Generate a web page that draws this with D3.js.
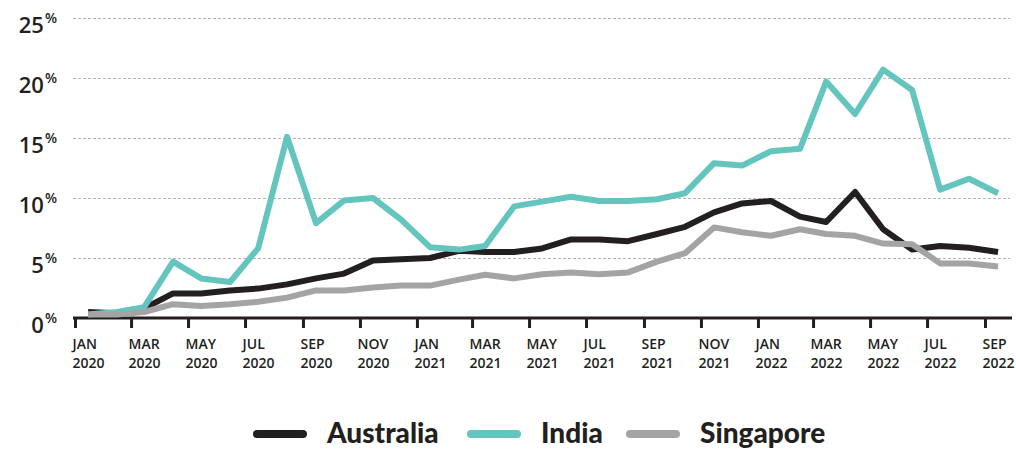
<!DOCTYPE html>
<html>
<head>
<meta charset="utf-8">
<script src="https://cdn.jsdelivr.net/npm/d3@7"></script>
<style>
  body { margin: 0; background: #fff; }
  svg { display: block; }
  .grid line { stroke: #b3b3b3; stroke-width: 1; stroke-dasharray: 3 2; }
  .ylab { font-family: "Open Sans", sans-serif; font-weight: 600; fill: #231f20; }
  .x-axis text { font-family: "Open Sans", sans-serif; font-weight: 600; font-size: 14px; fill: #231f20; }
  .legend text { font-family: Lato, "Open Sans", sans-serif; font-weight: 900; font-size: 28px; fill: #231f20; }
</style>
</head>
<body>
<svg id="chart" width="1016" height="450"></svg>
<script>
// months of data, Jan 2020 .. Sep 2022
var months = ['2020-01','2020-02','2020-03','2020-04','2020-05','2020-06','2020-07','2020-08','2020-09','2020-10','2020-11','2020-12',
              '2021-01','2021-02','2021-03','2021-04','2021-05','2021-06','2021-07','2021-08','2021-09','2021-10','2021-11','2021-12',
              '2022-01','2022-02','2022-03','2022-04','2022-05','2022-06','2022-07','2022-08','2022-09'];

// series values, percent
var australia = [0.5, 0.4, 0.8, 2.05, 2.05, 2.3, 2.45, 2.8, 3.3, 3.7, 4.8, 4.9,
                 5.0, 5.6, 5.5, 5.5, 5.8, 6.55, 6.55, 6.4, 7.0, 7.6, 8.8, 9.55,
                 9.75, 8.45, 8.0, 10.5, 7.4, 5.7, 6.0, 5.85, 5.5];
var india = [0.3, 0.5, 0.9, 4.7, 3.3, 3.0, 5.8, 15.1, 7.9, 9.8, 10.0, 8.2,
             5.9, 5.7, 6.0, 9.3, 9.7, 10.1, 9.75, 9.75, 9.9, 10.4, 12.9, 12.7,
             13.9, 14.1, 19.7, 17.0, 20.7, 19.0, 10.7, 11.6, 10.4];
var singapore = [0.3, 0.3, 0.5, 1.15, 1.0, 1.15, 1.35, 1.7, 2.3, 2.3, 2.55, 2.7,
                 2.7, 3.2, 3.6, 3.3, 3.65, 3.8, 3.65, 3.8, 4.7, 5.4, 7.55, 7.15,
                 6.85, 7.4, 7.0, 6.85, 6.2, 6.15, 4.55, 4.55, 4.3];

// legend / series setup
var seriesNames = ['Australia', 'India', 'Singapore'];
var seriesColors = ['#231f20', '#63c5be', '#a4a4a4'];
var yTicks = [0, 5, 10, 15, 20, 25];

var parseMonth = d3.timeParse('%Y-%m');
var svg = d3.select('#chart');

var x = d3.scaleTime()
  .domain([new Date(2020, 0, 1), new Date(2022, 9, 1)])
  .range([75, 1013]);

var y = d3.scaleLinear()
  .domain([0, 25])
  .range([318, 18]);

// gridlines
svg.append('g')
  .attr('class', 'grid')
  .selectAll('line')
  .data(yTicks.filter(function (d) { return d > 0; }))
  .enter().append('line')
  .attr('x1', 73)
  .attr('x2', 1010)
  .attr('y1', function (d) { return Math.round(y(d)) + 0.5; })
  .attr('y2', function (d) { return Math.round(y(d)) + 0.5; });

// y labels, with a raised % sign
var ylab = svg.append('g').selectAll('text')
  .data(yTicks)
  .enter().append('text')
  .attr('class', 'ylab')
  .attr('text-anchor', 'end')
  .attr('x', 57)
  .attr('y', function (d) { return y(d) + 15; });
ylab.append('tspan')
  .style('font-size', '22px')
  .text(function (d) { return d; });
ylab.append('tspan')
  .style('font-size', '14px')
  .attr('dx', 1)
  .attr('dy', -10)
  .text('%');

// x axis
var xAxis = d3.axisBottom(x)
  .ticks(d3.timeMonth.every(2))
  .tickSize(10)
  .tickPadding(8)
  .tickFormat(function () { return ''; });

var gx = svg.append('g')
  .attr('class', 'x-axis')
  .attr('transform', 'translate(0,318)')
  .call(xAxis);

gx.select('.domain')
  .attr('d', 'M73,0H1012')
  .attr('stroke', '#231f20')
  .attr('stroke-width', 3);
gx.selectAll('.tick line')
  .attr('stroke', '#231f20')
  .attr('stroke-width', 3);

var fmtMon = d3.timeFormat('%b'), fmtYr = d3.timeFormat('%Y');
gx.selectAll('.tick text').each(function (d) {
  var t = d3.select(this)
    .attr('text-anchor', 'start')
    .attr('x', -3)
    .attr('y', 21)
    .attr('dy', null);
  t.append('tspan').attr('x', -3).attr('dy', '0.71em').text(fmtMon(d).toUpperCase());
  t.append('tspan').attr('x', -3).attr('dy', '1.35em').text(fmtYr(d));
});

// lines
var line = d3.line()
  .x(function (d, i) { var m = parseMonth(months[i]); return x(new Date(m.getFullYear(), m.getMonth(), 15)); })
  .y(function (d) { return y(d); });

[australia, india, singapore].forEach(function (s, i) {
  svg.append('path')
    .datum(s)
    .attr('fill', 'none')
    .attr('stroke', seriesColors[i])
    .attr('stroke-width', 6)
    .attr('stroke-linejoin', 'round')
    .attr('d', line);
});

// legend
var legendX = [253, 467, 626];
var legend = svg.append('g').attr('class', 'legend');
seriesNames.forEach(function (name, i) {
  legend.append('line')
    .attr('x1', legendX[i] + 4)
    .attr('x2', legendX[i] + 50)
    .attr('y1', 434)
    .attr('y2', 434)
    .attr('stroke', seriesColors[i])
    .attr('stroke-width', 8)
    .attr('stroke-linecap', 'round');
  legend.append('text')
    .attr('x', legendX[i] + 74)
    .attr('y', 443)
    .text(name);
});
</script>
</body>
</html>
